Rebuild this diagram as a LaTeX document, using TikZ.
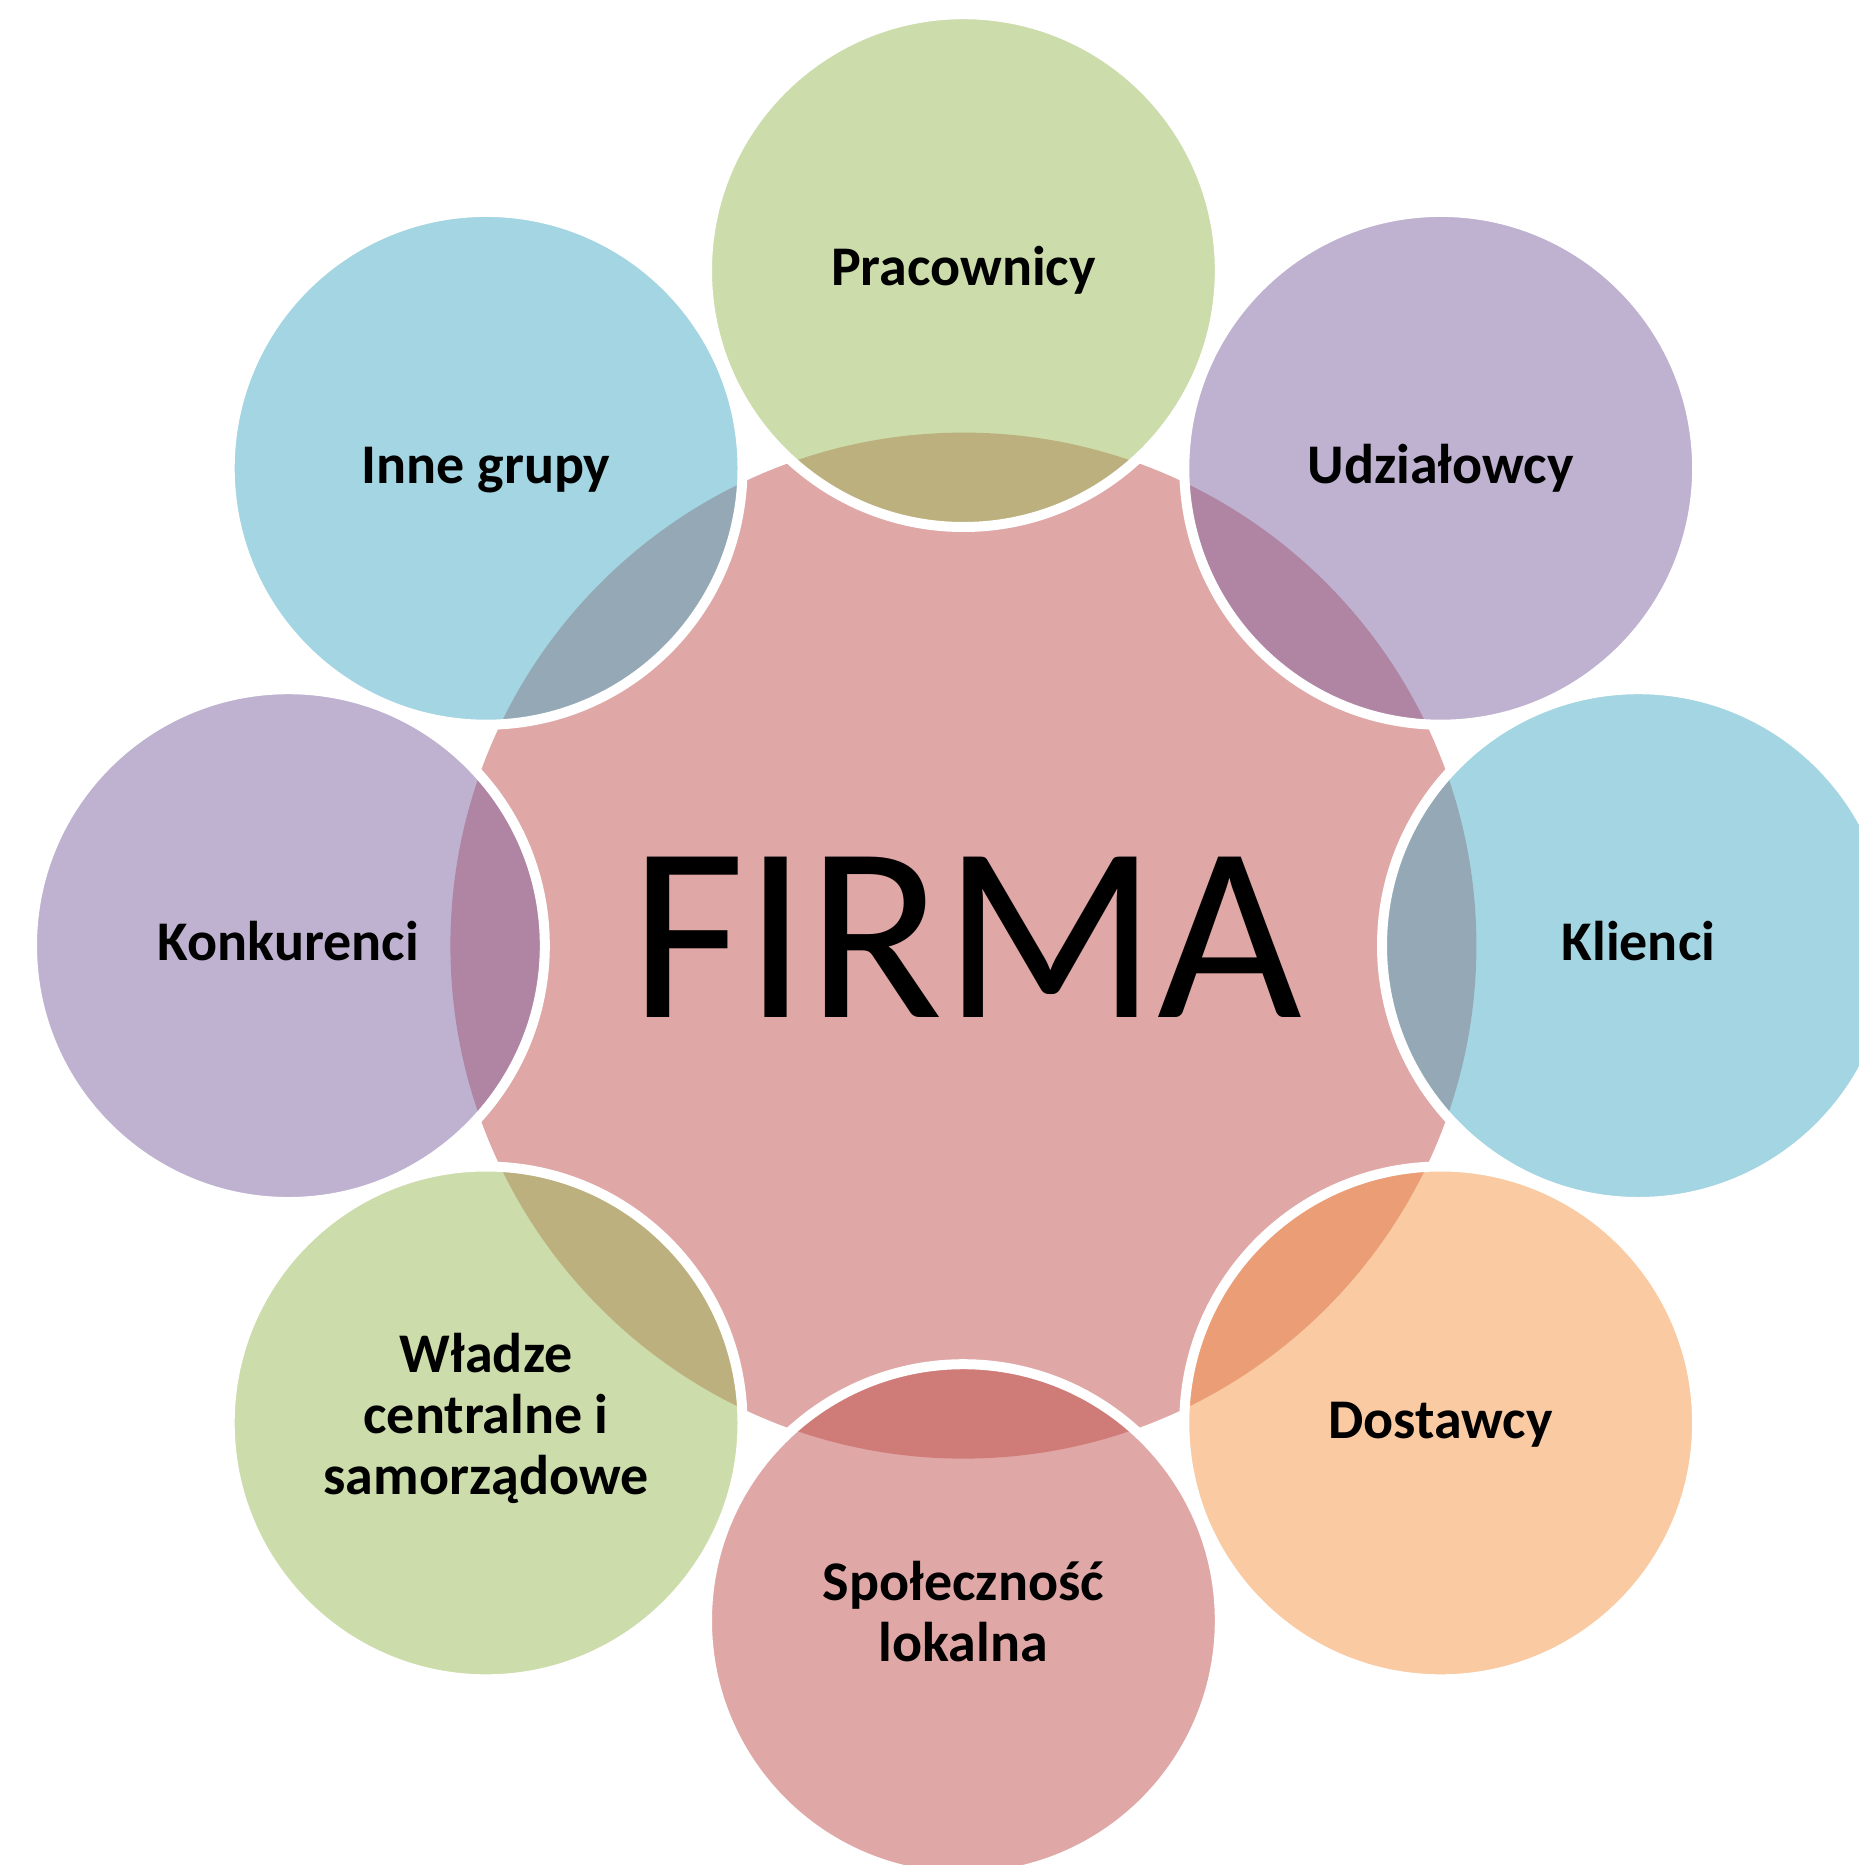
\documentclass[tikz,border=0pt]{standalone}
\usepackage{fontspec}
\setmainfont{Carlito}
\definecolor{cRed}{HTML}{C0504D}
\definecolor{cGreen}{HTML}{9BBB59}
\definecolor{cPurple}{HTML}{8064A2}
\definecolor{cAqua}{HTML}{4BACC6}
\definecolor{cOrange}{HTML}{F79646}
\tikzset{
  ring/.style={circle, inner sep=0pt, outer sep=0pt, minimum size=512.8pt,
    draw=white, line width=10pt, fill opacity=0.5},
  core/.style={circle, inner sep=0pt, outer sep=0pt, minimum size=1026pt,
    fill=cRed, fill opacity=0.5},
  lbl/.style={anchor=north, align=center, inner sep=0pt, text=black,
    font=\fontsize{56pt}{61pt}\selectfont\bfseries,
    execute at begin node={\rule{0pt}{50pt}}},
  bigtxt/.style={anchor=base, inner sep=0pt, text=black,
    font=\fontsize{250pt}{250pt}\selectfont},
}
\begin{document}
\begin{tikzpicture}[x=1pt, y=-1pt]
  \useasboundingbox (0,0) rectangle (1859,1865);
  \fill[white] (0,0) rectangle (1859,1865);
  \clip (0,0) rectangle (1859,1865);

  % central circle
  \node[core] (firma) at (963.4,945.6) {};

  % outer circles
  \node[ring, fill=cGreen]  (prac) at (963.4,270.6) {};
  \node[ring, fill=cPurple] (udzi) at (1440.7,468.3) {};
  \node[ring, fill=cAqua]   (klie) at (1638.4,945.6) {};
  \node[ring, fill=cOrange] (dost) at (1440.7,1422.9) {};
  \node[ring, fill=cRed]    (spol) at (963.4,1620.6) {};
  \node[ring, fill=cGreen]  (wlad) at (486.1,1422.9) {};
  \node[ring, fill=cPurple] (konk) at (288.4,945.6) {};
  \node[ring, fill=cAqua]   (inne) at (486.1,468.3) {};

  % labels
  \node[bigtxt] (tfirma) at (966,1017) {FIRMA};
  \node[lbl] (tprac) at ([yshift=35pt]prac.center) {Pracownicy};
  \node[lbl] (tudzi) at ([yshift=35pt]udzi.center) {Udziałowcy};
  \node[lbl] (tklie) at ([yshift=35pt]klie.center) {Klienci};
  \node[lbl] (tdost) at ([yshift=35pt]dost.center) {Dostawcy};
  \node[lbl] (tspol) at ([yshift=59.5pt]spol.center) {Społeczność\\lokalna};
  \node[lbl] (twlad) at ([yshift=90pt]wlad.center) {Władze\\centralne i\\samorządowe};
  \node[lbl] (tkonk) at ([yshift=35pt]konk.center) {Konkurenci};
  \node[lbl] (tinne) at ([yshift=35pt]inne.center) {Inne grupy};
\end{tikzpicture}
\end{document}
